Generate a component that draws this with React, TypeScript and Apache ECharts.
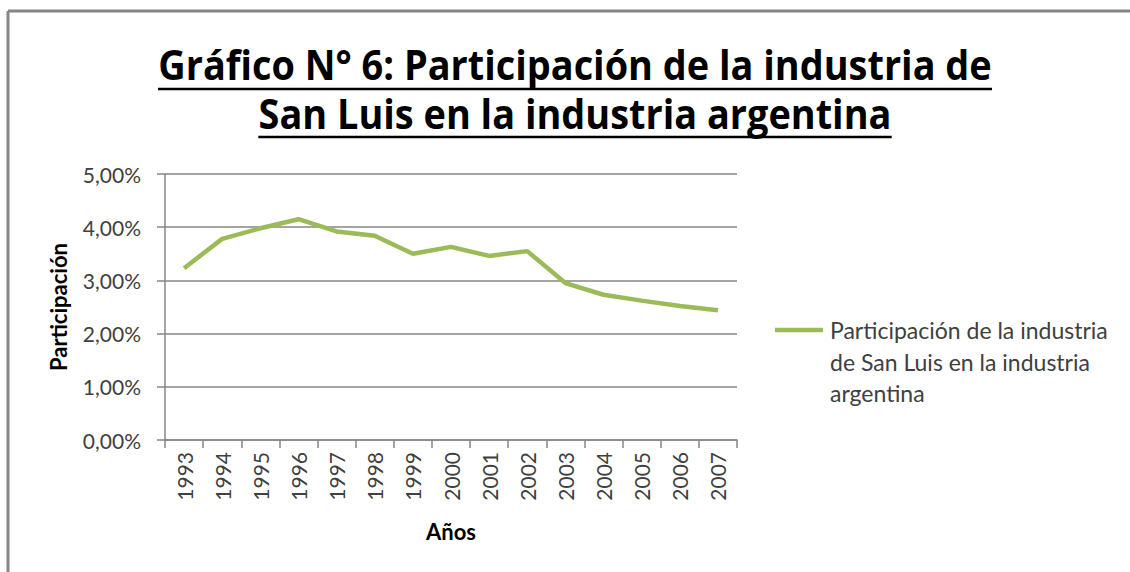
import React, { useEffect, useRef } from "react";
import * as echarts from "echarts";

const years = ["1993","1994","1995","1996","1997","1998","1999","2000","2001","2002","2003","2004","2005","2006","2007"];
const participacion = [3.23, 3.78, 3.98, 4.15, 3.92, 3.84, 3.5, 3.63, 3.46, 3.55, 2.95, 2.73, 2.62, 2.52, 2.44];
const seriesName = "Participación de la industria de San Luis en la industria argentina";
const legendLines = ["Participación de la industria", "de San Luis en la industria", "argentina"];
const titleLines = ["Gráfico N° 6: Participación de la industria de", "San Luis en la industria argentina"];
const yTicks = { min: 0, max: 5, interval: 1 };

const FONT = "Lato, 'DejaVu Sans', sans-serif";
const TFONT = "'Open Sans', 'DejaVu Sans', sans-serif";
const TITLE_SIZE = 42;
const TITLE_TARGET_W = 834;

function measure(text: string, font: string): number {
  const c = document.createElement("canvas");
  const ctx = c.getContext("2d");
  if (!ctx) return text.length * 18;
  ctx.font = font;
  return ctx.measureText(text).width;
}

export default function App() {
  const ref = useRef<HTMLDivElement>(null);
  useEffect(() => {
    if (!ref.current) return;
    const chart = echarts.init(ref.current, undefined, { renderer: "svg" });
    const cx = 575;
    const titleMid = [64, 113];
    const underlineY = [89, 137];
    const graphic: any[] = [];
    graphic.push({ type: "line", shape: { x1: 8, y1: 11, x2: 1130, y2: 11 }, style: { stroke: "#868686", lineWidth: 3 } });
    graphic.push({ type: "line", shape: { x1: 8, y1: 11, x2: 8, y2: 572 }, style: { stroke: "#868686", lineWidth: 3 } });
    const w0 = measure(titleLines[0], `bold ${TITLE_SIZE}px 'Open Sans'`);
    const sx = w0 > 0 ? TITLE_TARGET_W / w0 : 1;
    titleLines.forEach((t, i) => {
      const w = measure(t, `bold ${TITLE_SIZE}px 'Open Sans'`) * sx;
      graphic.push({
        type: "text",
        x: cx,
        y: titleMid[i],
        scaleX: sx,
        style: { text: t, font: `bold ${TITLE_SIZE}px ${TFONT}`, fill: "#000", align: "center", verticalAlign: "middle" },
      });
      graphic.push({
        type: "line",
        shape: { x1: cx - w / 2, y1: underlineY[i], x2: cx + w / 2, y2: underlineY[i] },
        style: { stroke: "#000", lineWidth: 2.5 },
      });
    });
    const legendLH = 31.5;
    graphic.push({ type: "line", shape: { x1: 775, y1: 330, x2: 823, y2: 330 }, style: { stroke: "#9BBB59", lineWidth: 4.5 } });
    graphic.push({
      type: "text",
      x: 830,
      y: 330 - legendLH / 2,
      style: { text: legendLines.join("\n"), font: `23px ${FONT}`, lineHeight: legendLH, fill: "#404040", align: "left", verticalAlign: "top" },
    });
    chart.setOption({
      animation: false,
      backgroundColor: "#fff",
      graphic,
      grid: { left: 165, right: 393, top: 174, bottom: 132, containLabel: false },
      xAxis: {
        type: "category",
        data: years,
        boundaryGap: true,
        name: "Años",
        nameLocation: "middle",
        nameGap: 80,
        nameTextStyle: { fontFamily: FONT, fontWeight: "bold", fontSize: 22, color: "#000" },
        axisLine: { lineStyle: { color: "#868686", width: 1.5 } },
        axisTick: { show: true, length: 8, lineStyle: { color: "#868686", width: 1.5 } },
        axisLabel: { rotate: 90, fontFamily: FONT, fontSize: 21, color: "#404040", margin: 12, interval: 0 },
      },
      yAxis: {
        type: "value",
        min: yTicks.min,
        max: yTicks.max,
        interval: yTicks.interval,
        name: "Participación",
        nameLocation: "middle",
        nameRotate: 90,
        nameGap: 96,
        nameTextStyle: { fontFamily: FONT, fontWeight: "bold", fontSize: 22, color: "#000" },
        axisLine: { show: true, lineStyle: { color: "#868686", width: 1.5 } },
        axisTick: { show: true, length: 8, lineStyle: { color: "#868686", width: 1.5 } },
        splitLine: { show: true, lineStyle: { color: "#868686", width: 1.5 } },
        axisLabel: {
          fontFamily: FONT,
          fontSize: 21,
          color: "#404040",
          margin: 24,
          formatter: (v: number) => v.toFixed(2).replace(".", ",") + "%",
        },
      },
      series: [
        {
          name: seriesName,
          type: "line",
          data: participacion,
          symbol: "none",
          lineStyle: { color: "#9BBB59", width: 4.5 },
        },
      ],
    });
    return () => chart.dispose();
  }, []);
  return <div ref={ref} style={{ width: 1130, height: 572, position: "absolute", left: 0, top: 0 }} />;
}
